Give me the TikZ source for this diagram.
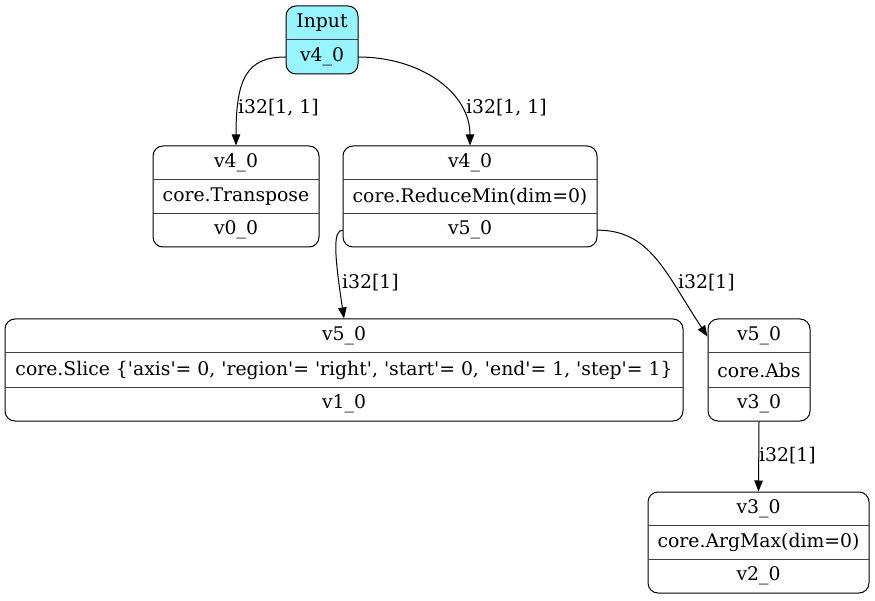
\documentclass[tikz,border=0pt]{standalone}
\usepackage{fontspec}
\setmainfont{DejaVu Serif}
\usetikzlibrary{arrows.meta}
\definecolor{inputcyan}{HTML}{98F5FF}
\newcommand\q{\textquotesingle}
\tikzset{
  box/.style={draw=black, line width=1pt, rounded corners=10pt, inner sep=0pt},
  rowtxt/.style={inner sep=0pt, anchor=center},
  divider/.style={draw=black!75, line width=1pt},
  edge/.style={draw=black, line width=1pt, -{Triangle[length=11pt,width=8.5pt]}},
  elabel/.style={inner sep=0pt, anchor=west},
}
% #1 name, #2 x1, #3 y1, #4 x2, #5 y2, #6 fill, #7 t1, #8 t2, #9 t3
\newcommand\recthree[9]{%
  \node[box, fill=#6, minimum width={(#4-#2)*1pt}, minimum height={(#5-#3)*1pt}] (#1) at ({(#2+#4)/2},{(#3+#5)/2}) {};
  \pgfmathsetmacro\rh{(#5-#3)/3}
  \node[rowtxt, minimum width={(#4-#2)*1pt}, minimum height={\rh*1pt}] (#1-1) at ({(#2+#4)/2},{#3+\rh/2}) {#7};
  \node[rowtxt, minimum width={(#4-#2)*1pt}, minimum height={\rh*1pt}] (#1-2) at ({(#2+#4)/2},{#3+1.5*\rh}) {#8};
  \node[rowtxt, minimum width={(#4-#2)*1pt}, minimum height={\rh*1pt}] (#1-3) at ({(#2+#4)/2},{#3+2.5*\rh}) {#9};
  \draw[divider] (#2,{#3+\rh}) -- (#4,{#3+\rh});
  \draw[divider] (#2,{#3+2*\rh}) -- (#4,{#3+2*\rh});
}
\begin{document}
\begin{tikzpicture}[x=1pt, y=-1pt, font=\fontsize{18.8}{22}\selectfont]
\useasboundingbox (0,0) rectangle (875,601);

% Input node (two rows)
\node[box, fill=inputcyan, minimum width=72pt, minimum height=68pt] (in) at (322,40) {};
\node[rowtxt, minimum width=72pt, minimum height=34pt] (in-1) at (322,23) {Input};
\node[rowtxt, minimum width=72pt, minimum height=34pt] (in-2) at (322,57) {v4\_0};
\draw[divider] (286,40) -- (358,40);

\recthree{tr}{153}{146}{319}{247}{white}{v4\_0}{core.Transpose}{v0\_0}
\recthree{rm}{343}{146}{597}{247}{white}{v4\_0}{core.ReduceMin(dim=0)}{v5\_0}
\recthree{sl}{5}{319}{683}{421}{white}{v5\_0}{core.Slice \{\q axis\q= 0, \q region\q= \q right\q, \q start\q= 0, \q end\q= 1, \q step\q= 1\}}{v1\_0}
\recthree{ab}{708}{319}{810}{421}{white}{v5\_0}{core.Abs}{v3\_0}
\recthree{am}{648}{492}{869}{593}{white}{v3\_0}{core.ArgMax(dim=0)}{v2\_0}

% edges
\draw[edge] (in-2.west) .. controls (247,57) and (236,78) .. (tr.north);
\draw[edge] (in-2.east) .. controls (420,57) and (470,92) .. (rm.north);
\draw[edge] (rm-3.west) .. controls (333,230) and (334,252) .. (sl.north);
\draw[edge] (rm-3.east) .. controls (650,230) and (665,272) .. (ab.147);
\draw[edge] (ab.south) -- (am.north);

% edge labels
\node[elabel] (l1) at (238,108) {i32[1, 1]};
\node[elabel] (l2) at (466,108) {i32[1, 1]};
\node[elabel] (l3) at (342,283) {i32[1]};
\node[elabel] (l4) at (678,283) {i32[1]};
\node[elabel] (l5) at (759,456) {i32[1]};
\end{tikzpicture}
\end{document}
